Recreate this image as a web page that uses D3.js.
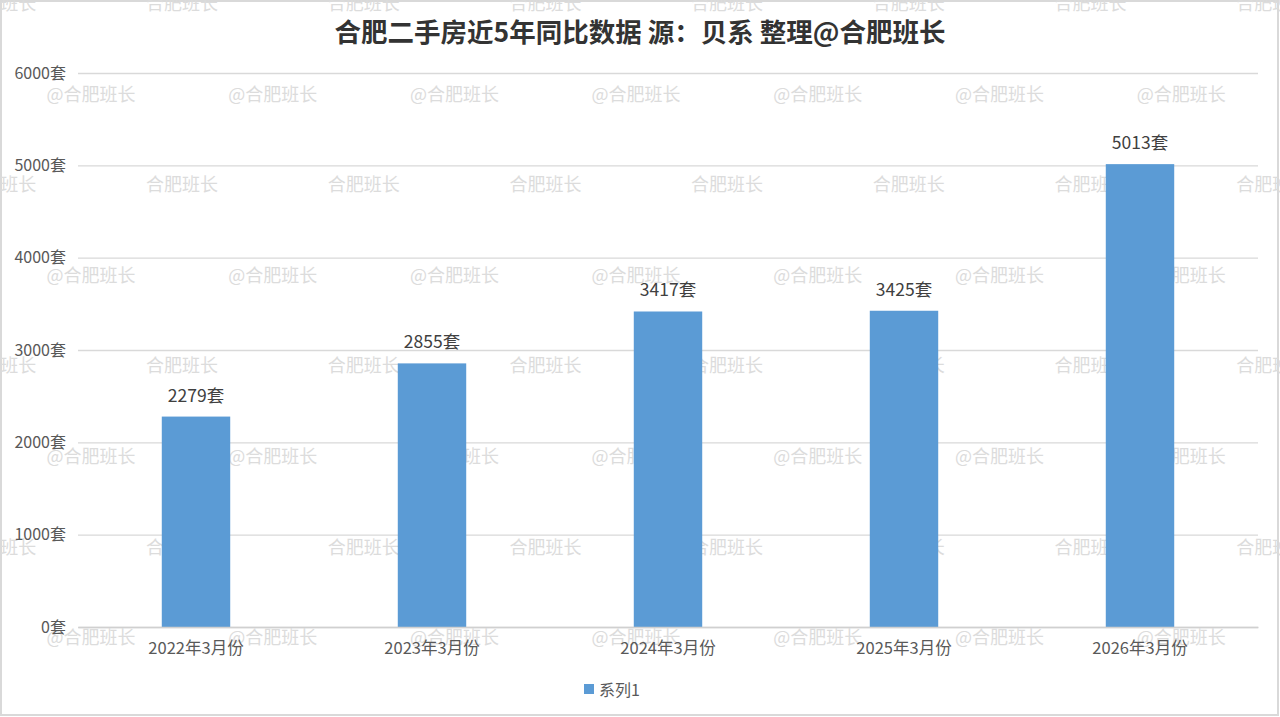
<!DOCTYPE html>
<html><head><meta charset="utf-8">
<script src="https://cdn.jsdelivr.net/npm/d3@7"></script>
<style>
html,body{margin:0;padding:0;background:#fff;}
svg{display:block;font-family:"Noto Sans CJK SC","Noto Sans",sans-serif;}
</style></head>
<body>
<svg id="chart" width="1280" height="717"></svg>
<script>
const categories = ["2022年3月份","2023年3月份","2024年3月份","2025年3月份","2026年3月份"];
const values = [2279, 2855, 3417, 3425, 5013];
const yTicks = [0, 1000, 2000, 3000, 4000, 5000, 6000];
const unit = "套";
const seriesName = "系列1";
const titleText = "合肥二手房近5年同比数据 源：贝系 整理@合肥班长";
const watermarkA = "@合肥班长";
const watermarkB = "合肥班长";

const W = 1280, H = 717;
const svg = d3.select("#chart");
const m = {left: 78, right: 22, top: 73, bottom: 90};

// frame
svg.append("rect").attr("x",1).attr("y",1).attr("width",W-3).attr("height",H-3)
  .attr("fill","#fff").attr("stroke","#d9d9d9").attr("stroke-width",2);

// watermarks (decoration)
const wm = svg.append("g").attr("fill","#dcdcdc").attr("font-size",18)
  .attr("text-anchor","middle").attr("dominant-baseline","central");
for (let r = 0; r < 8; r++) {
  const y = 2 + r * 90.6;
  const isA = r % 2 === 1;
  for (let c = -1; c < 8; c++) {
    const x = isA ? 91 + c * 181.7 : 182 + c * 181.7;
    wm.append("text").attr("x", x).attr("y", y).text(isA ? watermarkA : watermarkB);
  }
}

const x = d3.scaleBand().domain(categories).range([m.left, W - m.right]).padding(0);
const y = d3.scaleLinear().domain([0, 6000]).range([H - m.bottom, m.top]);

// gridlines
const yAxis = d3.axisLeft(y).tickValues(yTicks).tickSize(-(W - m.right - m.left)).tickFormat(d => d + unit);
const ga = svg.append("g").attr("transform", `translate(${m.left},0)`).call(yAxis);
ga.select(".domain").remove();
ga.selectAll(".tick line").attr("stroke","#d9d9d9").attr("stroke-width",1.3);
ga.selectAll(".tick text").attr("x",-12).attr("fill","#595959").attr("font-size",16)
  .attr("font-family","'Noto Sans CJK SC',sans-serif");

// bars
const bw = x.bandwidth() * 0.29;
svg.append("g").selectAll("rect").data(values).join("rect")
  .attr("x", (d,i) => x(categories[i]) + x.bandwidth()/2 - bw/2)
  .attr("y", d => y(d))
  .attr("width", bw)
  .attr("height", d => y(0) - y(d))
  .attr("fill", "#5B9BD5");

// value labels
svg.append("g").selectAll("text").data(values).join("text")
  .attr("x", (d,i) => x(categories[i]) + x.bandwidth()/2)
  .attr("y", d => y(d) - 15)
  .attr("text-anchor","middle").attr("fill","#404040").attr("font-size",17.5)
  .text(d => d + unit);

// x axis
const xAxis = d3.axisBottom(x).tickSize(0).tickPadding(15);
const gx = svg.append("g").attr("transform", `translate(0,${y(0)})`).call(xAxis);
gx.select(".domain").attr("stroke","#d0d0d0").attr("stroke-width",1.3);
gx.selectAll(".tick text").attr("fill","#595959").attr("font-size",16.5)
  .attr("font-family","'Noto Sans CJK SC',sans-serif");

// title
svg.append("text").attr("x", 640).attr("y", 42).attr("text-anchor","middle")
  .attr("font-size",26.5).attr("font-weight","bold").attr("fill","#333")
  .text(titleText);

// legend
const lg = svg.append("g").attr("transform","translate(584,684)");
lg.append("rect").attr("width",10).attr("height",10).attr("fill","#5B9BD5");
lg.append("text").attr("x",15).attr("y",5).attr("dominant-baseline","central")
  .attr("font-size",16).attr("fill","#595959").text(seriesName);
</script>
</body></html>
